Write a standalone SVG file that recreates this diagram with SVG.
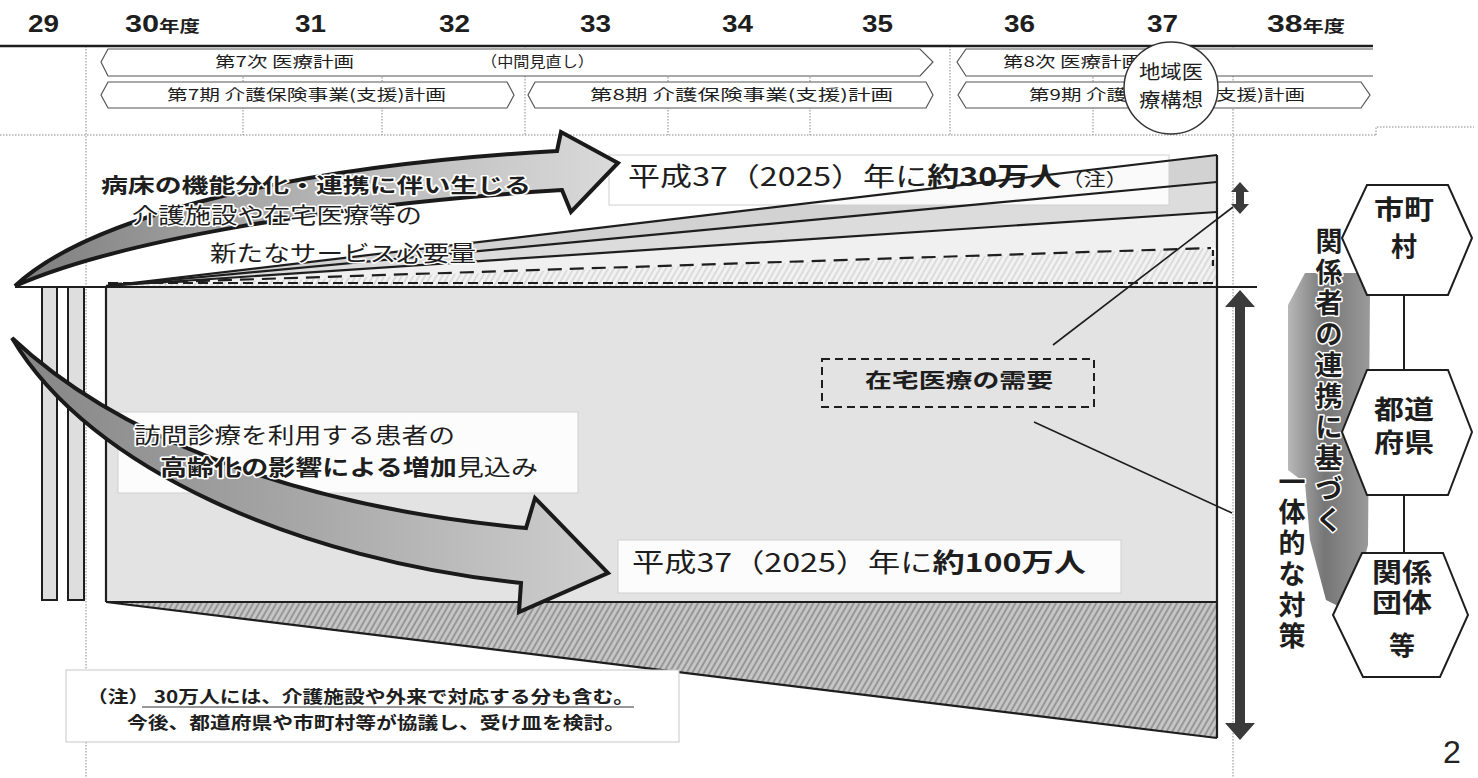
<svg xmlns="http://www.w3.org/2000/svg" width="1478" height="778" viewBox="0 0 1478 778">
<style>
.jp{font-family:"Noto Sans CJK JP","Noto Sans",sans-serif;fill:#1e1e1e}
.num{font-family:"Liberation Sans",Arial,sans-serif;font-weight:bold;fill:#1e1e1e}
.b{font-weight:bold}
.ban{fill:#fff;stroke:#555;stroke-width:1.2}
.dot{stroke:#888;stroke-width:1;stroke-dasharray:1.5 1.5;fill:none}
.ln{stroke:#1e1e1e;fill:none;stroke-width:2.2}
.halo{stroke:#fff;stroke-width:3;paint-order:stroke;stroke-linejoin:round}
.hex{fill:#fff;stroke:#1e1e1e;stroke-width:2}
.box{fill:#fff;fill-opacity:0.88;stroke:#d0d0d0;stroke-width:1}
</style>
<defs>
<pattern id="hatchDark" width="5" height="5" patternUnits="userSpaceOnUse" patternTransform="rotate(30)">
<rect width="5" height="5" fill="#c6c6c6"/><line x1="1" y1="0" x2="1" y2="5" stroke="#7e7e7e" stroke-width="1.3"/>
</pattern>
<pattern id="hatchLight" width="5" height="5" patternUnits="userSpaceOnUse" patternTransform="rotate(30)">
<rect width="5" height="5" fill="#f2f2f2"/><line x1="1" y1="0" x2="1" y2="5" stroke="#cdcdcd" stroke-width="1.2"/>
</pattern>
<linearGradient id="gUp" x1="0" y1="0" x2="1" y2="0">
<stop offset="0" stop-color="#7d7d7d"/><stop offset="0.5" stop-color="#b3b3b3"/><stop offset="1" stop-color="#dadada"/>
</linearGradient>
<linearGradient id="gDown" x1="0" y1="0" x2="1" y2="0">
<stop offset="0" stop-color="#858585"/><stop offset="0.5" stop-color="#a8a8a8"/><stop offset="1" stop-color="#d0d0d0"/>
</linearGradient>
<linearGradient id="gCol" x1="0" y1="0" x2="1" y2="0">
<stop offset="0" stop-color="#b8b8b8"/><stop offset="0.45" stop-color="#767676"/><stop offset="1" stop-color="#9a9a9a"/>
</linearGradient>
</defs>
<rect width="1478" height="778" fill="#fff"/>

<!-- grid -->
<g id="grid">
<line class="dot" x1="0" y1="135" x2="1376" y2="135"/>
<polyline class="dot" points="1376,135 1376,127 1474,127"/>
<line class="dot" x1="86" y1="46" x2="86" y2="778"/>
<line class="dot" x1="1233" y1="46" x2="1233" y2="778"/>
<line class="dot" x1="243" y1="77" x2="243" y2="135"/>
<line class="dot" x1="382" y1="77" x2="382" y2="135"/>
<line class="dot" x1="668" y1="77" x2="668" y2="135"/>
<line class="dot" x1="810" y1="77" x2="810" y2="135"/>
<line class="dot" x1="1093" y1="77" x2="1093" y2="135"/>
<line class="dot" x1="525" y1="46" x2="525" y2="135"/>
<line class="dot" x1="950" y1="46" x2="950" y2="135"/>
</g>

<!-- header years -->
<g id="years">
<text class="num" x="28" y="32" font-size="24" textLength="31" lengthAdjust="spacingAndGlyphs">29</text>
<text class="num" x="125" y="32" font-size="24" textLength="75" lengthAdjust="spacingAndGlyphs">30<tspan font-size="16" font-family="Noto Sans CJK JP,sans-serif">年度</tspan></text>
<text class="num" x="295" y="32" font-size="24" textLength="31" lengthAdjust="spacingAndGlyphs">31</text>
<text class="num" x="439" y="32" font-size="24" textLength="31" lengthAdjust="spacingAndGlyphs">32</text>
<text class="num" x="580" y="32" font-size="24" textLength="31" lengthAdjust="spacingAndGlyphs">33</text>
<text class="num" x="722" y="32" font-size="24" textLength="31" lengthAdjust="spacingAndGlyphs">34</text>
<text class="num" x="862" y="32" font-size="24" textLength="31" lengthAdjust="spacingAndGlyphs">35</text>
<text class="num" x="1004" y="32" font-size="24" textLength="31" lengthAdjust="spacingAndGlyphs">36</text>
<text class="num" x="1147" y="32" font-size="24" textLength="31" lengthAdjust="spacingAndGlyphs">37</text>
<text class="num" x="1267" y="32" font-size="24" textLength="78" lengthAdjust="spacingAndGlyphs">38<tspan font-size="16" font-family="Noto Sans CJK JP,sans-serif">年度</tspan></text>
<line x1="0" y1="46" x2="1373" y2="46" stroke="#1e1e1e" stroke-width="2.5"/>
</g>

<!-- plan banners -->
<g id="plan-medical-7">
<polygon class="ban" points="108,49 920,49 933,62 920,76 108,76 101,62"/>
<text class="jp" x="215" y="67" font-size="15" textLength="139" lengthAdjust="spacingAndGlyphs">第7次 医療計画</text>
<text class="jp" x="481" y="67" font-size="15" textLength="113" lengthAdjust="spacingAndGlyphs">（中間見直し）</text>
</g>
<g id="plan-medical-8">
<path class="ban" d="M1373,49 L966,49 L957,62 L966,76 L1373,76"/>
<text class="jp" x="1003" y="67" font-size="15" textLength="139" lengthAdjust="spacingAndGlyphs">第8次 医療計画</text>
</g>
<g id="plan-care-7">
<polygon class="ban" points="108,82 507,82 514,95 507,108 108,108 101,95"/>
<text class="jp" x="167" y="100" font-size="15" textLength="279" lengthAdjust="spacingAndGlyphs">第7期 介護保険事業(支援)計画</text>
</g>
<g id="plan-care-8">
<polygon class="ban" points="535,82 926,82 933,95 926,108 535,108 528,95"/>
<text class="jp" x="590" y="100" font-size="15" textLength="303" lengthAdjust="spacingAndGlyphs">第8期 介護保険事業(支援)計画</text>
</g>
<g id="plan-care-9">
<polygon class="ban" points="966,82 1361,82 1370,95 1361,108 966,108 958,95"/>
<text class="jp" x="1029" y="100" font-size="15" textLength="276" lengthAdjust="spacingAndGlyphs">第9期 介護保険事業(支援)計画</text>
</g>
<g id="regional-vision">
<ellipse cx="1171" cy="88" rx="47" ry="46" fill="#fff" stroke="#333" stroke-width="1.5"/>
<text class="jp" x="1171" y="79" font-size="19" text-anchor="middle" textLength="64" lengthAdjust="spacingAndGlyphs">地域医</text>
<text class="jp" x="1171" y="107" font-size="19" text-anchor="middle" textLength="64" lengthAdjust="spacingAndGlyphs">療構想</text>
</g>

<!-- chart body -->
<g id="fan">
<polygon points="106,286 1217,155 1217,182" fill="#d2d2d2"/>
<polygon points="106,286 1217,182 1217,212" fill="#dcdcdc"/>
<polygon points="106,286 1217,212 1217,248" fill="#f0f0f0"/>
<polygon points="106,286 1211,248 1217,262 1217,286" fill="url(#hatchLight)"/>
</g>
<g id="label-30man">
<rect class="box" x="609" y="155" width="560" height="50"/>
<text class="jp" x="628" y="186" font-size="26" textLength="500" lengthAdjust="spacingAndGlyphs">平成37（2025）年に<tspan class="b">約30万人</tspan><tspan font-size="18">（注）</tspan></text>
</g>
<g id="fan-lines">
<line class="ln" x1="106" y1="286" x2="1217" y2="155"/>
<line class="ln" x1="106" y1="286" x2="1217" y2="182"/>
<line class="ln" x1="106" y1="286" x2="1217" y2="212"/>
<line class="ln" x1="108" y1="284" x2="1211" y2="248" stroke-width="2.5" stroke-dasharray="14 8"/>
<line class="ln" x1="1213" y1="250" x2="1213" y2="266" stroke-width="2.5" stroke-dasharray="6 4"/>
</g>
<g id="main-box">
<rect x="106" y="287" width="1111" height="315" fill="#e3e3e3"/>
<polygon points="106,602 1217,602 1217,738" fill="url(#hatchDark)"/>
<rect x="42" y="287" width="15" height="313" fill="#dedede" stroke="#1e1e1e" stroke-width="2"/>
<rect x="68" y="287" width="16" height="313" fill="#dedede" stroke="#1e1e1e" stroke-width="2"/>
<line class="ln" x1="106" y1="287" x2="106" y2="602"/>
<line class="ln" x1="106" y1="602" x2="1217" y2="602"/>
<line class="ln" x1="106" y1="602" x2="1217" y2="738" stroke-width="2.5"/>
<line class="ln" x1="1217" y1="155" x2="1217" y2="738" stroke-width="2.5"/>
<line class="ln" x1="108" y1="283" x2="1217" y2="283" stroke-width="3.5" stroke-dasharray="10 5"/>
<line class="ln" x1="15" y1="287" x2="1257" y2="287" stroke-width="3"/>
</g>

<!-- lower arrow -->
<g id="label-visit">
<rect class="box" x="118" y="412" width="460" height="81"/>
</g>
<g id="arrow-down">
<path d="M12,338 C110,430 280,505 526,528 L535,498 L608,573 L519,612 L521,583 C300,560 90,470 12,338 Z" fill="url(#gDown)" stroke="#1a1a1a" stroke-width="4" stroke-linejoin="miter"/>
</g>
<g id="label-visit-text">
<text class="jp halo" x="134" y="443" font-size="22" textLength="321" lengthAdjust="spacingAndGlyphs">訪問診療を利用する患者の</text>
<text class="jp halo" x="160" y="475" font-size="22" textLength="378" lengthAdjust="spacingAndGlyphs"><tspan class="b">高齢化の影響による増加</tspan>見込み</text>
</g>
<g id="label-100man">
<rect class="box" x="618" y="540" width="503" height="53"/>
<text class="jp" x="632" y="572" font-size="26" textLength="454" lengthAdjust="spacingAndGlyphs">平成37（2025）年に<tspan class="b">約100万人</tspan></text>
</g>

<!-- upper arrow -->
<g id="arrow-up">
<path d="M15,286 C80,225 260,168 557,151 L561,132 L618,163 L571,212 L562,190 C330,205 120,240 15,286 Z" fill="url(#gUp)" stroke="#1a1a1a" stroke-width="4" stroke-linejoin="miter"/>
</g>
<g id="label-beds">
<text class="jp b halo" x="101" y="193" font-size="20" textLength="430" lengthAdjust="spacingAndGlyphs">病床の機能分化・連携に伴い生じる</text>
<text class="jp halo" x="132" y="223" font-size="22" textLength="290" lengthAdjust="spacingAndGlyphs">介護施設や在宅医療等の</text>
<text class="jp halo" x="210" y="261" font-size="22" textLength="266" lengthAdjust="spacingAndGlyphs">新たなサービス必要量</text>
</g>

<!-- home care demand -->
<g id="home-care-demand">
<rect x="822" y="359" width="272" height="48" fill="none" stroke="#1e1e1e" stroke-width="2" stroke-dasharray="8 5"/>
<text class="jp b" x="959" y="388" font-size="20" text-anchor="middle" textLength="188" lengthAdjust="spacingAndGlyphs">在宅医療の需要</text>
</g>
<g id="connectors">
<line x1="1053" y1="345" x2="1233" y2="207" stroke="#1e1e1e" stroke-width="1.6"/>
<line x1="1034" y1="422" x2="1232" y2="513" stroke="#1e1e1e" stroke-width="1.6"/>
<path d="M1240,182 L1249,192 L1244,192 L1244,204 L1249,204 L1240,214 L1231,204 L1236,204 L1236,192 L1231,192 Z" fill="#3a3a3a"/>
<path d="M1240,290 L1255,307 L1245,307 L1245,723 L1255,723 L1240,740 L1225,723 L1235,723 L1235,307 L1225,307 Z" fill="#3a3a3a"/>
<line x1="1404" y1="295" x2="1404" y2="370" stroke="#1e1e1e" stroke-width="2"/>
<line x1="1404" y1="495" x2="1404" y2="553" stroke="#1e1e1e" stroke-width="2"/>
</g>

<!-- right column -->
<g id="cooperation">
<polygon points="1305,273 1367,273 1370,290 1368,545 1350,612 1326,600 1310,540 1305,483 1288,470 1288,305" fill="url(#gCol)"/>
<g class="jp b halo" font-size="27" text-anchor="middle">
<text x="1329" y="251">関</text>
<text x="1329" y="282">係</text>
<text x="1329" y="313">者</text>
<text x="1329" y="344">の</text>
<text x="1329" y="375">連</text>
<text x="1329" y="406">携</text>
<text x="1329" y="437">に</text>
<text x="1329" y="468">基</text>
<text x="1329" y="499">づ</text>
<text x="1329" y="530">く</text>
<text x="1292" y="492">一</text>
<text x="1292" y="522">体</text>
<text x="1292" y="553">的</text>
<text x="1292" y="584">な</text>
<text x="1292" y="615">対</text>
<text x="1292" y="646">策</text>
</g>
</g>
<g id="hex-municipality">
<polygon class="hex" points="1342,238 1367,185 1448,185 1472,238 1448,295 1367,295"/>
<text class="jp b" x="1404" y="219" font-size="26" text-anchor="middle" textLength="60" lengthAdjust="spacingAndGlyphs">市町</text>
<text class="jp b" x="1404" y="256" font-size="26" text-anchor="middle">村</text>
</g>
<g id="hex-prefecture">
<polygon class="hex" points="1342,432 1367,370 1448,370 1472,432 1448,495 1367,495"/>
<text class="jp b" x="1404" y="419" font-size="26" text-anchor="middle" textLength="60" lengthAdjust="spacingAndGlyphs">都道</text>
<text class="jp b" x="1404" y="452" font-size="26" text-anchor="middle" textLength="60" lengthAdjust="spacingAndGlyphs">府県</text>
</g>
<g id="hex-organizations">
<polygon class="hex" points="1333,615 1362,553 1443,553 1468,615 1440,677 1363,677"/>
<text class="jp b" x="1402" y="582" font-size="26" text-anchor="middle" textLength="60" lengthAdjust="spacingAndGlyphs">関係</text>
<text class="jp b" x="1402" y="612" font-size="26" text-anchor="middle" textLength="60" lengthAdjust="spacingAndGlyphs">団体</text>
<text class="jp b" x="1402" y="655" font-size="26" text-anchor="middle">等</text>
</g>

<!-- note -->
<g id="note">
<rect x="66" y="670" width="613" height="72" fill="#fff" stroke="#c8c8c8" stroke-width="1"/>
<text class="jp b" x="87" y="703" font-size="17" textLength="547" lengthAdjust="spacingAndGlyphs">（注） 30万人には、介護施設や外来で対応する分も含む。</text>
<line x1="142" y1="707" x2="634" y2="707" stroke="#333" stroke-width="1.2"/>
<text class="jp b" x="127" y="729" font-size="17" textLength="498" lengthAdjust="spacingAndGlyphs">今後、都道府県や市町村等が協議し、受け皿を検討。</text>
</g>
<text x="1452" y="763" font-family="Liberation Sans,Arial,sans-serif" font-size="32" text-anchor="middle" fill="#222">2</text>
</svg>
